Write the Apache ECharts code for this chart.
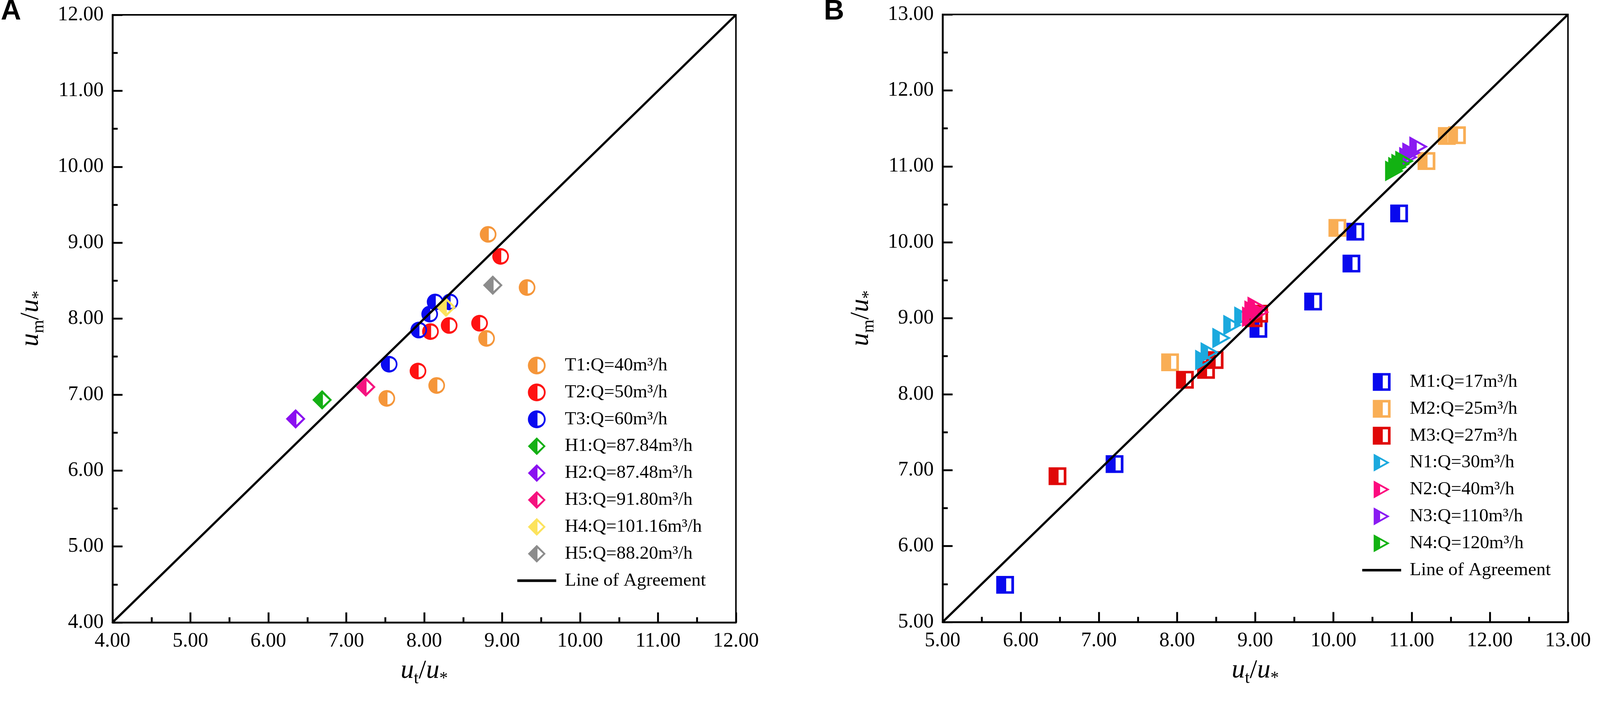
<!DOCTYPE html>
<html lang="en">
<head>
    <meta charset="UTF-8">
    <title>um/u* vs ut/u*</title>
    <script type="text/javascript" src="https://cdn.jsdelivr.net/npm/echarts@6/dist/echarts.min.js"></script>
    <style>
        html, body { margin: 0; padding: 0; background: #fff; overflow: hidden; }
        #main { width: 100vw; height: 100vh; }
    </style>
</head>
<body>
<div id="main"></div>
<script>
    // ---- panel A data [ut/u*, um/u*] ----
    const t1 = [[7.52, 6.95], [8.16, 7.12], [8.80, 7.74], [9.32, 8.41], [8.82, 9.11]];
    const t2 = [[7.92, 7.31], [8.08, 7.83], [8.32, 7.91], [8.71, 7.94], [8.98, 8.82]];
    const t3 = [[7.55, 7.40], [7.93, 7.85], [8.07, 8.06], [8.14, 8.22], [8.33, 8.22]];
    const h1 = [[6.69, 6.93]];
    const h2 = [[6.35, 6.68]];
    const h3 = [[7.25, 7.10]];
    const h4 = [[8.28, 8.15]];
    const h5 = [[8.88, 8.44]];
    const lineA = [[4, 4], [12, 12]];

    // ---- panel B data ----
    const m1 = [[5.80, 5.49], [7.20, 7.08], [9.04, 8.86], [9.74, 9.22], [10.23, 9.72], [10.28, 10.14], [10.84, 10.38]];
    const m2 = [[7.91, 8.42], [10.05, 10.19], [11.19, 11.07], [11.45, 11.40], [11.58, 11.41]];
    const m3 = [[6.47, 6.92], [8.10, 8.19], [8.37, 8.32], [8.48, 8.45], [8.98, 9.00], [9.05, 9.06]];
    const n1 = [[8.35, 8.45], [8.42, 8.55], [8.57, 8.74], [8.71, 8.91], [8.85, 9.02]];
    const n2 = [[8.95, 9.02], [8.98, 9.10], [9.02, 9.15], [9.06, 9.08]];
    const n3 = [[10.96, 11.12], [11.00, 11.18], [11.09, 11.26]];
    const n4 = [[10.78, 10.94], [10.82, 10.99], [10.86, 11.03], [10.91, 11.07]];
    const lineB = [[5, 5], [13, 13]];

    const namesA = ['T1:Q=40m³/h', 'T2:Q=50m³/h', 'T3:Q=60m³/h', 'H1:Q=87.84m³/h',
        'H2:Q=87.48m³/h', 'H3:Q=91.80m³/h', 'H4:Q=101.16m³/h', 'H5:Q=88.20m³/h'];
    const namesB = ['M1:Q=17m³/h', 'M2:Q=25m³/h', 'M3:Q=27m³/h', 'N1:Q=30m³/h',
        'N2:Q=40m³/h', 'N3:Q=110m³/h', 'N4:Q=120m³/h'];
    const lineName = 'Line of Agreement';

    // half filled markers (left half solid, right half open)
    const CIRCLE = 'path://M5 0A5 5 0 1 1 5 10A5 5 0 1 1 5 0ZM5.4 1.4L5.4 8.6A3.6 3.6 0 0 0 5.4 1.4Z';
    const DIAMOND = 'path://M5 0L10 5L5 10L0 5ZM5.4 2L5.4 8L8.6 5Z';
    const SQUARE = 'path://M0 0H10V10H0ZM5.6 1.4V8.6H8.5V1.4Z';
    const TRI = 'path://M0 0L9 5L0 10ZM3.6 3.1L3.6 6.9L7 5Z';

    const serif = "'Liberation Serif', 'Times New Roman', serif";

    var chartDom = document.getElementById('main');
    var myChart = echarts.init(chartDom);

    // layout was measured on a 4317 x 1812 picture, scale it to the real box
    const kx = chartDom.clientWidth / 4317;
    const ky = chartDom.clientHeight / 1812;
    const k = Math.min(kx, ky);
    function X(v) { return Math.round(v * kx); }
    function Y(v) { return Math.round(v * ky); }
    function S(v) { return v * k; }

    function sc(name, data, symbol, size, color, gi) {
        return {
            name: name, type: 'scatter', xAxisIndex: gi, yAxisIndex: gi,
            data: data, symbol: symbol, symbolSize: S(size), symbolKeepAspect: true,
            itemStyle: {color: color, opacity: 1}, z: 2
        };
    }

    function agree(data, gi) {
        return {
            name: lineName, type: 'line', xAxisIndex: gi, yAxisIndex: gi,
            data: data, symbol: 'none', z: 5,
            itemStyle: {color: '#000', opacity: 0},
            lineStyle: {color: '#000', width: S(6)}
        };
    }

    const richName = {
        u: {fontFamily: serif, fontStyle: 'italic', fontSize: S(72), lineHeight: S(90), color: '#000'},
        sl: {fontFamily: serif, fontSize: S(72), lineHeight: S(90), color: '#000'},
        s: {fontFamily: serif, fontSize: S(46), lineHeight: S(44), verticalAlign: 'bottom', color: '#000'}
    };

    function axis(gi, min, max, isY, name) {
        return {
            gridIndex: gi, type: 'value', min: min, max: max, interval: 1,
            name: name, nameLocation: 'middle',
            nameGap: isY ? S(175) : S(86), nameRotate: isY ? 90 : 0,
            nameTextStyle: {rich: richName},
            axisLine: {show: true, onZero: false, lineStyle: {color: '#000', width: S(5)}},
            axisTick: {show: true, inside: true, length: S(27), lineStyle: {color: '#000', width: S(5)}},
            minorTick: {show: true, splitNumber: 2, length: S(14), lineStyle: {color: '#000', width: S(5)}},
            splitLine: {show: false},
            axisLabel: {
                color: '#000', fontFamily: serif, fontSize: S(55), margin: S(24),
                formatter: function (v) { return v.toFixed(2); }
            }
        };
    }

    const yName = '{u|u}{s|m}{sl|/}{u|u}{s|*}';
    const xName = '{u|u}{s|t}{sl|/}{u|u}{s|*}';

    const legendBase = {
        orient: 'vertical', itemWidth: S(105), itemHeight: S(48), itemGap: S(23),
        textStyle: {fontFamily: serif, fontSize: S(50), color: '#000', padding: [0, 0, 0, S(18)]},
        lineStyle: {color: '#000', width: S(7)},
        selectedMode: false
    };

    const letter = {fontFamily: "'Liberation Sans', Arial, sans-serif", fontWeight: 'bold', fontSize: S(76), color: '#000'};

    var option = {
        backgroundColor: '#fff',
        animation: false,
        title: [
            {text: 'A', left: X(2), top: Y(-6), padding: 0, textStyle: letter},
            {text: 'B', left: X(2223), top: Y(-6), padding: 0, textStyle: letter}
        ],
        grid: [
            {left: X(304), top: Y(38), width: X(1682), height: Y(1555), show: true, borderColor: '#000', borderWidth: S(4)},
            {left: X(2543), top: Y(37), width: X(1687), height: Y(1555), show: true, borderColor: '#000', borderWidth: S(4)}
        ],
        xAxis: [axis(0, 4, 12, false, xName), axis(1, 5, 13, false, xName)],
        yAxis: [axis(0, 4, 12, true, yName), axis(1, 5, 13, true, yName)],
        legend: [
            Object.assign({}, legendBase, {left: X(1387), top: Y(907), data: namesA.concat([lineName])}),
            Object.assign({}, legendBase, {left: X(3667), top: Y(949), data: namesB.concat([lineName])})
        ],
        series: [
            sc(namesA[0], t1, CIRCLE, 45, '#F5963A', 0),
            sc(namesA[1], t2, CIRCLE, 45, '#FF1212', 0),
            sc(namesA[2], t3, CIRCLE, 45, '#0A0AF0', 0),
            sc(namesA[3], h1, DIAMOND, 53, '#14B014', 0),
            sc(namesA[4], h2, DIAMOND, 53, '#8A10F0', 0),
            sc(namesA[5], h3, DIAMOND, 53, '#F5137F', 0),
            sc(namesA[6], h4, DIAMOND, 53, '#FCE35C', 0),
            sc(namesA[7], h5, DIAMOND, 53, '#8C8C8C', 0),
            agree(lineA, 0),
            sc(namesB[0], m1, SQUARE, 48, '#0808EE', 1),
            sc(namesB[1], m2, SQUARE, 48, '#F9AE55', 1),
            sc(namesB[2], m3, SQUARE, 48, '#E00808', 1),
            sc(namesB[3], n1, TRI, 56, '#1BA9DE', 1),
            sc(namesB[4], n2, TRI, 56, '#FC0A7E', 1),
            sc(namesB[5], n3, TRI, 56, '#8A1AF2', 1),
            sc(namesB[6], n4, TRI, 56, '#12B212', 1),
            agree(lineB, 1)
        ]
    };
    myChart.setOption(option);
</script>
</body>
</html>
